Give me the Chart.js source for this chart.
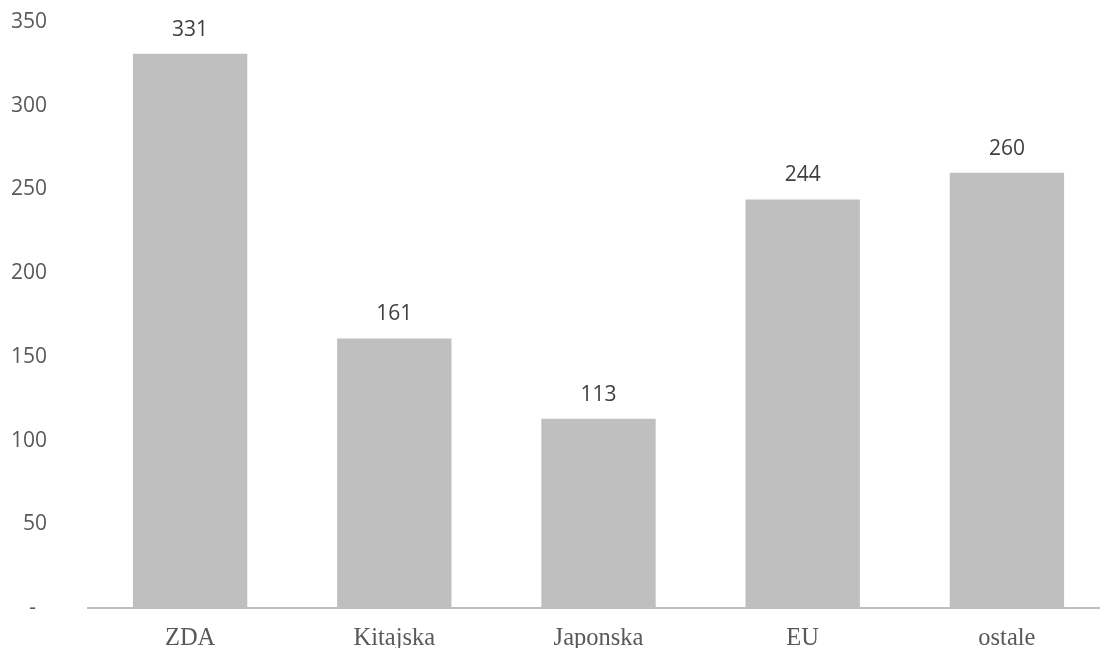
<!DOCTYPE html>
<html>
<head>
<meta charset="utf-8">
<script src="https://cdn.jsdelivr.net/npm/chart.js@4.4.1/dist/chart.umd.min.js"></script>
<style>
  html, body { margin: 0; padding: 0; background: #ffffff; overflow: hidden; }
  #wrap { width: 1110px; height: 660px; }
</style>
</head>
<body>
<div id="wrap"><canvas id="chart" width="1110" height="660"></canvas></div>
<script>
// Regions and their values
const categories = ['ZDA', 'Kitajska', 'Japonska', 'EU', 'ostale'];
const values = [331, 161, 113, 244, 260];
const yTicks = [0, 50, 100, 150, 200, 250, 300, 350];

const barColor = '#bfbfbf';
const sansFont = { family: '"Open Sans", "Liberation Sans", sans-serif', size: 21 };

// Value labels drawn above each bar
const valueLabels = {
  id: 'valueLabels',
  afterDatasetsDraw(chart) {
    const ctx = chart.ctx;
    const meta = chart.getDatasetMeta(0);
    ctx.save();
    ctx.font = `${sansFont.size}px ${sansFont.family}`;
    ctx.fillStyle = '#404040';
    ctx.textAlign = 'center';
    ctx.textBaseline = 'middle';
    meta.data.forEach((bar, i) => {
      ctx.fillText(String(values[i]), bar.x, bar.y - 24);
    });
    ctx.restore();
  }
};

new Chart(document.getElementById('chart'), {
  type: 'bar',
  data: {
    labels: categories,
    datasets: [{
      data: values,
      backgroundColor: barColor,
      borderWidth: 0,
      categoryPercentage: 1,
      barPercentage: 0.56
    }]
  },
  options: {
    responsive: false,
    animation: false,
    devicePixelRatio: 1,
    layout: { padding: { top: 22, right: 1, bottom: 0, left: 0 } },
    plugins: { legend: { display: false }, tooltip: { enabled: false } },
    scales: {
      x: {
        grid: { display: false, drawTicks: false },
        border: { display: true, color: barColor, width: 2 },
        ticks: {
          color: '#595959',
          padding: 16,
          font: { family: '"Liberation Serif", "Times New Roman", serif', size: 24.5 }
        },
        afterFit(scale) { scale.height = 52; }
      },
      y: {
        min: 0,
        max: 350,
        afterBuildTicks(scale) { scale.ticks = yTicks.map(v => ({ value: v })); },
        grid: {
          display: true,
          drawOnChartArea: false,
          drawTicks: true,
          tickLength: 38,
          tickColor: 'rgba(0,0,0,0)'
        },
        border: { display: false },
        ticks: {
          color: '#595959',
          padding: 3,
          font: sansFont,
          callback: v => (v === 0 ? '-  ' : String(v))
        },
        afterFit(scale) { scale.width = 88; }
      }
    }
  },
  plugins: [valueLabels]
});
</script>
</body>
</html>
